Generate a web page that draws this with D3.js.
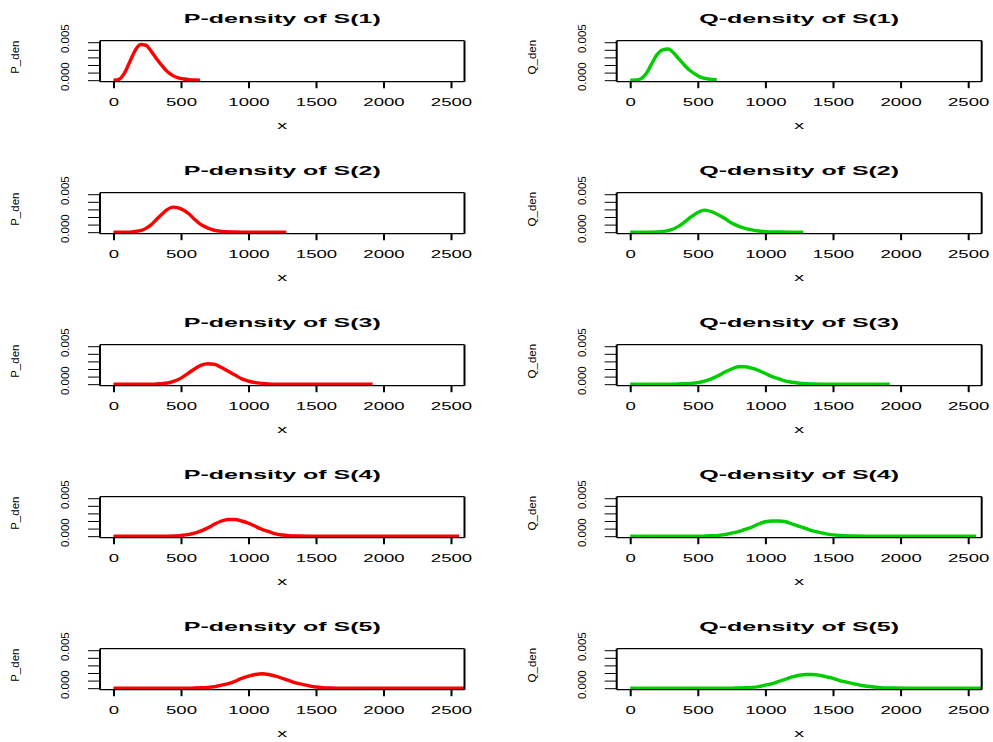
<!DOCTYPE html>
<html>
<head>
<meta charset="utf-8">
<script src="https://cdn.jsdelivr.net/npm/d3@7"></script>
<style>
  html, body { margin: 0; padding: 0; background: #ffffff; }
  svg { display: block; }
  text { font-family: "Liberation Sans", Arial, Helvetica, sans-serif; fill: #000; }
</style>
</head>
<body>
<svg id="chart" width="993" height="742"></svg>
<script>
// Aggregate sums S(1)..S(5)
const sumLabels = ["S(1)", "S(2)", "S(3)", "S(4)", "S(5)"];

// Axis ticks shared by every panel
const xTicks = [0, 500, 1000, 1500, 2000, 2500];
const yTicks = [0, 0.001, 0.002, 0.003, 0.004, 0.005];
const yTickLabels = [0, 0.005];
const xLimits = [0, 2500];
const yLimits = [0, 0.005];

// P-density of S(n): [x, density]
const pDenS1 = [[0,0],[40,0.0001],[80,0.0009],[120,0.0024],[160,0.0039],[200,0.0047],[240,0.0046],[280,0.0038],[320,0.0028],[360,0.0019],[400,0.0011],[440,0.0006],[480,0.0003],[520,0.00015],[560,0.00006],[600,0.00002],[640,0]];
const pDenS2 = [[0,0],[120,0],[160,0.0001],[200,0.0002],[240,0.0005],[280,0.001],[320,0.0017],[360,0.0024],[400,0.003],[440,0.0033],[480,0.0032],[520,0.0029],[560,0.0024],[600,0.0017],[640,0.0011],[680,0.0007],[720,0.0004],[760,0.0002],[800,0.0001],[840,0.00005],[880,0.00002],[960,0],[1280,0]];
const pDenS3 = [[0,0],[300,0],[350,0.00005],[400,0.00015],[450,0.0004],[500,0.0008],[550,0.0014],[600,0.002],[650,0.0025],[700,0.0027],[750,0.0026],[800,0.0022],[850,0.0017],[900,0.0012],[950,0.0007],[1000,0.0004],[1050,0.0002],[1100,0.0001],[1150,0.00004],[1200,0.00001],[1300,0],[1920,0]];
const pDenS4 = [[0,0],[400,0],[450,0.00002],[500,0.0001],[550,0.0002],[600,0.0004],[650,0.0007],[700,0.0011],[750,0.0016],[800,0.002],[850,0.0022],[900,0.0022],[950,0.002],[1000,0.0017],[1050,0.0013],[1100,0.0009],[1150,0.0006],[1200,0.0003],[1250,0.00015],[1300,0.00006],[1350,0.00002],[1450,0],[2560,0]];
const pDenS5 = [[0,0],[550,0],[600,0.00002],[650,0.00005],[700,0.0001],[750,0.0002],[800,0.0004],[850,0.0006],[900,0.0009],[950,0.0013],[1000,0.0016],[1050,0.0018],[1100,0.0019],[1150,0.0018],[1200,0.0016],[1250,0.0013],[1300,0.001],[1350,0.0007],[1400,0.0005],[1450,0.0003],[1500,0.00015],[1550,0.00007],[1600,0.00003],[1700,0],[3200,0]];

// Q-density of S(n): [x, density]
const qDenS1 = [[0,0],[40,0.00003],[80,0.0002],[120,0.0009],[160,0.0022],[200,0.0034],[240,0.004],[280,0.0041],[320,0.0036],[360,0.0028],[400,0.002],[440,0.0013],[480,0.0008],[520,0.0004],[560,0.0002],[600,0.0001],[640,0.00005]];
const qDenS2 = [[0,0],[150,0],[200,0.00002],[250,0.0001],[300,0.0003],[350,0.0007],[400,0.0013],[450,0.002],[500,0.0026],[550,0.0029],[600,0.0027],[650,0.0023],[700,0.0018],[750,0.0012],[800,0.0008],[850,0.0005],[900,0.0003],[950,0.00015],[1000,0.00008],[1050,0.00004],[1100,0.00002],[1200,0],[1280,0]];
const qDenS3 = [[0,0],[300,0],[350,0.00002],[400,0.00005],[450,0.0001],[500,0.0002],[550,0.0004],[600,0.0007],[650,0.0011],[700,0.0016],[750,0.002],[800,0.0023],[850,0.0023],[900,0.0021],[950,0.0018],[1000,0.0014],[1050,0.001],[1100,0.0007],[1150,0.0004],[1200,0.00025],[1250,0.00013],[1300,0.00006],[1350,0.00003],[1450,0],[1920,0]];
const qDenS4 = [[0,0],[500,0],[550,0.00002],[600,0.00005],[650,0.0001],[700,0.0002],[750,0.0004],[800,0.0006],[850,0.0009],[900,0.0012],[950,0.0016],[1000,0.0019],[1050,0.002],[1100,0.002],[1150,0.0019],[1200,0.0016],[1250,0.0013],[1300,0.001],[1350,0.0007],[1400,0.0005],[1450,0.0003],[1500,0.00018],[1550,0.0001],[1600,0.00005],[1650,0.00002],[1750,0],[2560,0]];
const qDenS5 = [[0,0],[750,0],[800,0.00003],[850,0.00006],[900,0.0001],[950,0.0002],[1000,0.0004],[1050,0.0006],[1100,0.0009],[1150,0.0012],[1200,0.0015],[1250,0.0017],[1300,0.0018],[1350,0.0018],[1400,0.0017],[1450,0.0015],[1500,0.0013],[1550,0.001],[1600,0.0008],[1650,0.0006],[1700,0.0004],[1750,0.00025],[1800,0.00015],[1850,0.00008],[1900,0.00004],[1950,0.00002],[2050,0],[3200,0]];

const pSeries = [pDenS1, pDenS2, pDenS3, pDenS4, pDenS5];
const qSeries = [qDenS1, qDenS2, qDenS3, qDenS4, qDenS5];

const columns = [
  { prefix: "P", yLabel: "P_den", color: "#ff0000", series: pSeries, left: 100, width: 364.5 },
  { prefix: "Q", yLabel: "Q_den", color: "#00cd00", series: qSeries, left: 616.7, width: 365 }
];

const svg = d3.select("#chart");
const boxTop0 = 40.7, rowStep = 152, boxH = 41;
const titleStretch = 1.85, tickStretch = 1.72;

// plot region padded by 4% of the data range on each side
function padded(lim) {
  const d = (lim[1] - lim[0]) * 0.04;
  return [lim[0] - d, lim[1] + d];
}

columns.forEach((col, ci) => {
  sumLabels.forEach((lab, ri) => {
    const top = boxTop0 + ri * rowStep;
    const x = d3.scaleLinear().domain(padded(xLimits)).range([col.left, col.left + col.width]);
    const y = d3.scaleLinear().domain(padded(yLimits)).range([top + boxH, top]);
    const g = svg.append("g");

    const clipId = `clip-${ci}-${ri}`;
    g.append("clipPath").attr("id", clipId)
      .append("rect").attr("x", col.left).attr("y", top).attr("width", col.width).attr("height", boxH);

    // density curve
    const line = d3.line().x(d => x(d[0])).y(d => y(d[1])).curve(d3.curveMonotoneX);
    g.append("path")
      .datum(col.series[ri])
      .attr("clip-path", `url(#${clipId})`)
      .attr("d", line)
      .attr("fill", "none")
      .attr("stroke", col.color)
      .attr("stroke-width", 3.4)
      .attr("stroke-linejoin", "round");

    // bottom axis
    const xAxis = g.append("g")
      .attr("transform", `translate(0,${top + boxH})`)
      .call(d3.axisBottom(x).tickValues(xTicks).tickSize(6.5).tickSizeOuter(0).tickFormat(d3.format("d")));
    xAxis.select(".domain").remove();
    xAxis.selectAll(".tick line").attr("stroke", "#000").attr("stroke-width", 2);
    xAxis.selectAll(".tick text")
      .attr("y", 24).attr("dy", 0)
      .attr("font-size", 10.8)
      .attr("font-family", "Liberation Sans, Arial, sans-serif")
      .attr("fill", "#000")
      .attr("transform", `scale(${tickStretch},1)`);

    // left axis
    const yAxis = g.append("g")
      .attr("transform", `translate(${col.left},0)`)
      .call(d3.axisLeft(y).tickValues(yTicks).tickSize(12).tickSizeOuter(0)
        .tickFormat(v => yTickLabels.some(t => Math.abs(t - v) < 1e-9) ? d3.format(".3f")(v) : ""));
    yAxis.select(".domain").remove();
    yAxis.selectAll(".tick line").attr("stroke", "#000").attr("stroke-width", 1);
    yAxis.selectAll(".tick text")
      .attr("x", 0).attr("y", 0).attr("dy", 0)
      .attr("text-anchor", "middle")
      .attr("font-size", 11.5)
      .attr("font-family", "Liberation Sans, Arial, sans-serif")
      .attr("fill", "#000")
      .attr("transform", "translate(-31,-4) rotate(-90)");

    // plot box
    g.append("line").attr("x1", col.left).attr("x2", col.left + col.width).attr("y1", top).attr("y2", top)
      .attr("stroke", "#000").attr("stroke-width", 1.2);
    g.append("line").attr("x1", col.left).attr("x2", col.left + col.width).attr("y1", top + boxH).attr("y2", top + boxH)
      .attr("stroke", "#000").attr("stroke-width", 1.2);
    g.append("line").attr("x1", col.left).attr("x2", col.left).attr("y1", top).attr("y2", top + boxH)
      .attr("stroke", "#000").attr("stroke-width", 2);
    g.append("line").attr("x1", col.left + col.width).attr("x2", col.left + col.width).attr("y1", top).attr("y2", top + boxH)
      .attr("stroke", "#000").attr("stroke-width", 2);

    // title
    g.append("text")
      .attr("transform", `translate(${col.left + col.width / 2},${top - 18}) scale(${titleStretch},1)`)
      .attr("text-anchor", "middle")
      .attr("font-weight", "bold")
      .attr("font-size", 13.5)
      .text(`${col.prefix}-density of ${lab}`);

    // x label
    g.append("text")
      .attr("transform", `translate(${col.left + col.width / 2},${top + boxH + 47.5}) scale(${tickStretch},1)`)
      .attr("text-anchor", "middle")
      .attr("font-size", 11.5)
      .text("x");

    // y label
    g.append("text")
      .attr("transform", `translate(${col.left - 81},${top + boxH / 2 - 4}) rotate(-90)`)
      .attr("text-anchor", "middle")
      .attr("font-size", 11.5)
      .text(col.yLabel);
  });
});
</script>
</body>
</html>
